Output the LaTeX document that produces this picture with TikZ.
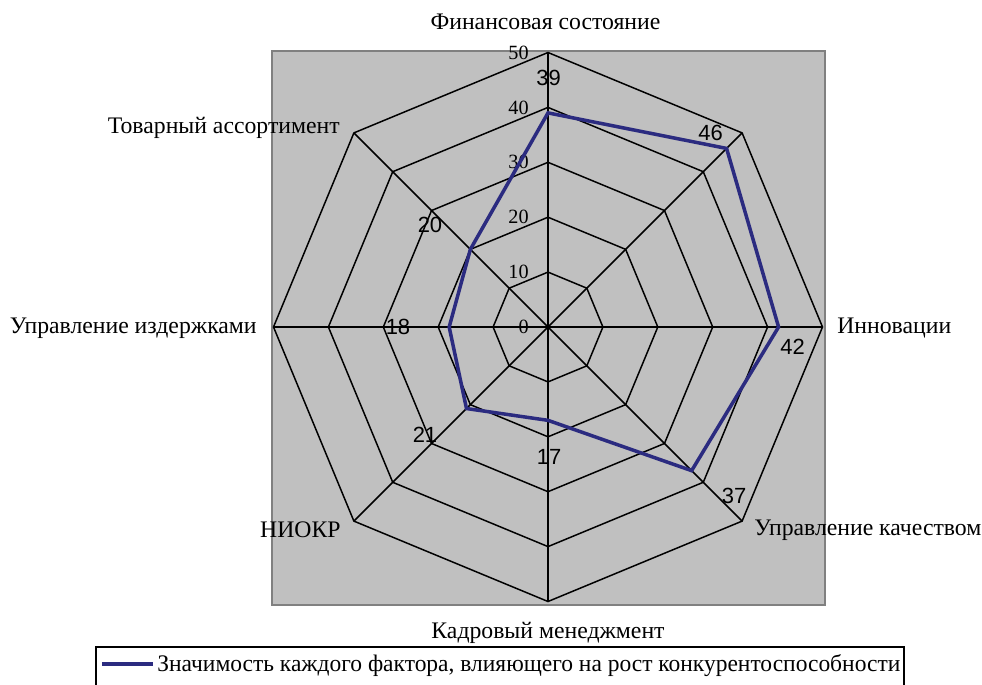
\documentclass[tikz,border=0pt]{standalone}
\usepackage{fontspec}
\setmainfont{Liberation Serif}
\newfontfamily\arialfont{Liberation Sans}
\usetikzlibrary{positioning}
\definecolor{grisfondo}{RGB}{192,192,192}
\definecolor{grisborde}{RGB}{128,128,128}
\definecolor{azulserie}{RGB}{43,43,128}

\begin{document}
\begin{tikzpicture}[x=0.02cm,y=0.02cm]
\tikzstyle{eje}=[draw=black,line width=0.85pt]
\tikzstyle{nivel}=[font=\fontsize{11.5}{13}\selectfont,anchor=east,inner sep=0pt]
\tikzstyle{valor}=[font=\arialfont\fontsize{12.5}{14}\selectfont,inner sep=0pt]
\tikzstyle{categoria}=[font=\fontsize{13.5}{16}\selectfont,inner sep=0pt]

\useasboundingbox (-548,-357) rectangle (434,327);

% fondo gris del grafico
\draw[fill=grisfondo,draw=grisborde,line width=1pt] (-276,276) rectangle (277,-278);

\coordinate (O) at (0,0);

% niveles 10..50
\foreach \r in {1,...,5}
  \draw[eje] (90:54.9*\r) \foreach \a in {45,0,-45,-90,-135,-180,-225} {-- (\a:54.9*\r)} -- cycle;

% ejes
\foreach \a/\n in {90/1,45/2,0/3,-45/4,-90/5,-135/6,-180/7,-225/8}
  \draw[eje] (O) -- (\a:274.5) coordinate (v\n);

% escala
\foreach \r in {0,1,...,5}
  \node[nivel] (n\r) at (-19,54.9*\r) {\pgfmathparse{int(10*\r)}\pgfmathresult};

% serie
\draw[azulserie,line width=2pt,line join=miter]
  (90:39*5.49) coordinate (d1) -- (45:46*5.49) coordinate (d2) -- (0:42*5.49) coordinate (d3)
  -- (-45:37*5.49) coordinate (d4) -- (-90:17*5.49) coordinate (d5) -- (-135:21*5.49) coordinate (d6)
  -- (-180:18*5.49) coordinate (d7) -- (-225:20*5.49) coordinate (d8) -- cycle;

% valores
\node[valor] (l1) at (0.5,249.5) {39};
\node[valor] (l2) at (162.5,194.5) {46};
\node[valor] (l3) at (244.5,-19.5) {42};
\node[valor] (l4) at (186,-169) {37};
\node[valor] (l5) at (1,-129.5) {17};
\node[valor] (l6) at (-123,-108) {21};
\node[valor] (l7) at (-150,0) {18};
\node[valor] (l8) at (-118,102) {20};

% categorias
\node[categoria] (c1) at (-2.5,305) {Финансовая состояние};
\node[categoria,anchor=west] (c3) at (289,-1) {Инновации};
\node[categoria,anchor=west] (c4) at (206,-203) {Управление качеством};
\node[categoria] (c5) at (0,-306) {Кадровый менеджмент};
\node[categoria,anchor=east] (c6) at (-207,-203) {НИОКР};
\node[categoria,anchor=east] (c7) at (-291,-1) {Управление издержками};
\node[categoria,anchor=east] (c8) at (-208,199) {Товарный ассортимент};

% leyenda
\draw[line width=0.8pt] (-452,-365) rectangle (356,-320);
\coordinate (m1) at (-446,-337);
\coordinate (m2) at (-395,-337);
\draw[azulserie,line width=2pt] (m1) -- (m2);
\node[categoria,anchor=west,xscale=0.99] (ley) at (-391,-339) {Значимость каждого фактора, влияющего на рост конкурентоспособности};
\end{tikzpicture}
\end{document}
